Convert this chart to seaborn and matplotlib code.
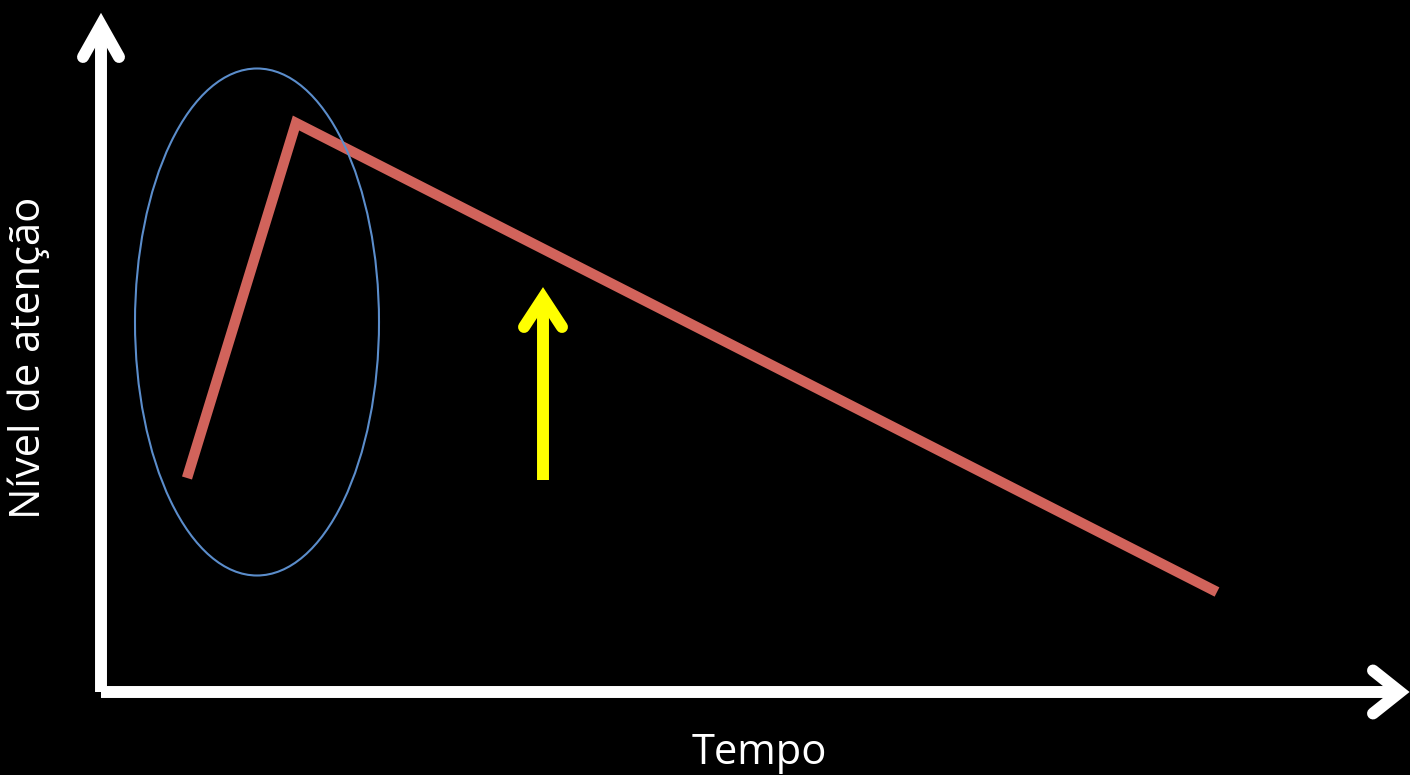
import matplotlib
matplotlib.use("Agg")
import matplotlib.pyplot as plt
from matplotlib.patches import Ellipse
import seaborn as sns
import pandas as pd

# Attention curve: quick rise at the start, then a long steady decline
tempo = [86, 195, 1116]
atencao = [214, 569, 100]

x_label = "Tempo"
y_label = "Nível de atenção"

sns.set_theme(style="dark")
plt.rcParams["font.family"] = ["Open Sans", "DejaVu Sans"]

fig = plt.figure(figsize=(14.1, 7.75), dpi=100, facecolor="black")
ax = fig.add_axes([0, 0, 1, 1])
ax.set_facecolor("black")
ax.set_axis_off()

# Hand-drawn style axes with open arrow heads
white = "white"
axis_lw = 8.6
ax.plot([0, 0], [0, 667], color=white, lw=axis_lw, solid_capstyle="butt", zorder=3)
ax.plot([0, 1299], [0, 0], color=white, lw=axis_lw, solid_capstyle="butt", zorder=3)
ax.plot([-18, 0, 18], [635, 667, 635], color=white, lw=axis_lw,
        solid_capstyle="round", solid_joinstyle="miter", zorder=3)
ax.plot([1272, 1299, 1272], [21.5, 0, -21.5], color=white, lw=axis_lw,
        solid_capstyle="round", solid_joinstyle="miter", zorder=3)

# Attention curve
df = pd.DataFrame({"tempo": tempo, "atencao": atencao})
sns.lineplot(data=df, x="tempo", y="atencao", sort=False, ax=ax,
             color="#D1635B", lw=7.5, zorder=4)
ax.lines[-1].set_solid_joinstyle("miter")
ax.lines[-1].set_solid_capstyle("butt")
if ax.get_legend():
    ax.get_legend().remove()
ax.set_xlim(-101, 1309)
ax.set_ylim(-83, 692)

# Highlight of the initial peak
ax.add_patch(Ellipse((156, 370), 244, 507, fill=False, edgecolor="#5B8DCB",
                     lw=1.5, zorder=5))

# Yellow marker arrow pointing up to the decline
yellow = "#FFFF00"
ax.plot([442, 442], [212, 394], color=yellow, lw=8.6, solid_capstyle="butt", zorder=5)
ax.plot([423, 442, 461], [365, 394, 365], color=yellow, lw=8.6,
        solid_capstyle="round", solid_joinstyle="miter", zorder=5)

# Axis titles
ax.text(658, -61, x_label, color=white, fontsize=30, ha="center", va="center")
ax.text(-72, 334, y_label, color=white, fontsize=30, ha="center", va="center",
        rotation=90)

ax.set_xlabel("")
ax.set_ylabel("")
fig.savefig("out.png", dpi=100, facecolor="black")
